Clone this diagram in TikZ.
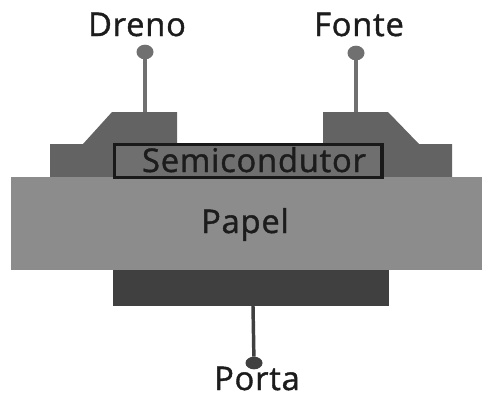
\documentclass[tikz,border=0pt]{standalone}
\usepackage{fontspec}
\usetikzlibrary{shapes.geometric}
\setmainfont{Open Sans}[FakeBold=1.2,LetterSpace=2.5]
\definecolor{metal}{HTML}{636363}
\definecolor{papercol}{HTML}{8C8C8C}
\definecolor{gatecol}{HTML}{404040}
\definecolor{semicol}{HTML}{6F6F6F}
\definecolor{wirecol}{HTML}{707070}
\definecolor{inkcol}{HTML}{1C1C1C}
\tikzset{
  every node/.style={inner sep=0pt,outer sep=0pt},
  lbl/.style={text=inkcol,font=\fontsize{24.5pt}{27pt}\selectfont,anchor=base},
  pad/.style={fill=metal,draw=none},
  wire/.style={draw=wirecol,line width=2.6pt},
  term/.style={ellipse,fill=wirecol,minimum width=12.75pt,minimum height=11pt},
}
\begin{document}
\begin{tikzpicture}[x=0.75pt,y=-0.75pt]
\useasboundingbox (0,0) rectangle (482,394);
\fill[white] (0,0) rectangle (482,394);
% contacts
\fill[pad] (50,178) -- (50,144) -- (83,144) -- (112,112) -- (177,112) -- (177,144) -- (323,144) -- (323,112) -- (388,112) -- (419,144) -- (452,144) -- (452,178) -- cycle;
% layers
\node[fill=papercol,minimum width=353.25pt,minimum height=69.75pt,anchor=north west] (papel) at (11,177) {};
\node[fill=gatecol,minimum width=207pt,minimum height=27pt,anchor=north west] (gate) at (113,270) {};
\node[fill=semicol,draw=black!90,line width=2.3pt,minimum width=200.6pt,minimum height=24.4pt,anchor=north west] (semi) at (114.5,144.5) {};
% labels
\node[lbl] (tdreno) at (137,36) {Dreno};
\node[lbl] (tfonte) at (359,36) {Fonte};
\node[lbl] (tsemi) at (254,172) {Semicondutor};
\node[lbl] (tpapel) at (245,233) {Papel};
\node[lbl] (tporta) at (257,390) {Porta};
% terminals
\node[term] (d) at (145,52) {};
\node[term] (f) at (356,53) {};
\node[term,fill=gatecol,minimum height=9.5pt] (p) at (254,363) {};
\coordinate (dc) at (145,112);
\coordinate (fc) at (356,112);
\coordinate (pc) at (253,306);
\draw[wire] (d) -- (dc);
\draw[wire] (f) -- (fc);
\draw[wire,draw=gatecol] (pc) -- (p);
\end{tikzpicture}
\end{document}
